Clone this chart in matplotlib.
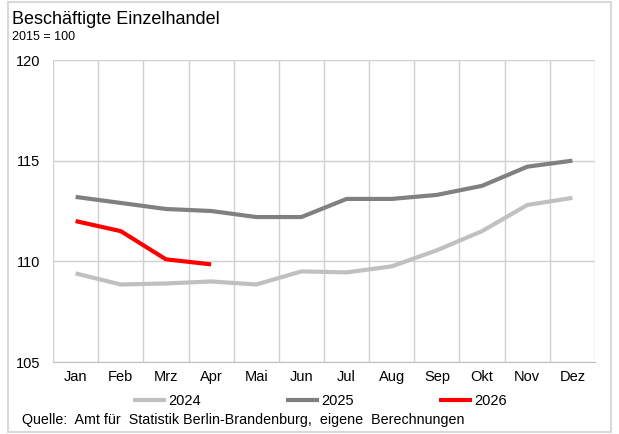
import matplotlib
matplotlib.use("Agg")
import matplotlib.pyplot as plt
from matplotlib.patches import Rectangle

plt.rcParams['font.family'] = ['Liberation Sans', 'DejaVu Sans']

months = ["Jan", "Feb", "Mrz", "Apr", "Mai", "Jun", "Jul", "Aug", "Sep", "Okt", "Nov", "Dez"]
y2024 = [109.4, 108.85, 108.9, 109.0, 108.85, 109.5, 109.45, 109.75, 110.55, 111.5, 112.8, 113.15]
y2025 = [113.2, 112.9, 112.6, 112.5, 112.2, 112.2, 113.1, 113.1, 113.3, 113.75, 114.7, 115.0]
y2026 = [112.0, 111.5, 110.1, 109.85]
yticks = [105, 110, 115, 120]

fig = plt.figure(figsize=(6.19, 4.34), dpi=100)
ax = fig.add_axes([53/619, 72/434, 542/619, 302/434])

x = list(range(len(months)))
ax.plot(x, y2024, color="#C0C0C0", lw=3, label="2024", solid_capstyle="butt")
ax.plot(x, y2025, color="#808080", lw=3, label="2025", solid_capstyle="butt")
ax.plot(range(len(y2026)), y2026, color="#FF0000", lw=3, label="2026", solid_capstyle="butt")

ax.set_xlim(-0.5, 11.5)
ax.set_ylim(105, 120)
ax.set_yticks(yticks)
ax.set_yticklabels([str(t) for t in yticks], fontsize=10.5)
ax.set_xticks(x)
ax.set_xticklabels(months, fontsize=10.5)
ax.tick_params(axis='both', length=0, which='both')
ax.tick_params(axis='x', pad=6)
ax.tick_params(axis='y', pad=9)
ax.grid(False)
for xv in [i - 0.5 for i in range(13)]:
    ax.axvline(xv, color="#D0D0D0", lw=1, zorder=0)
for yv in yticks:
    ax.axhline(yv, color="#D0D0D0", lw=1, zorder=0)
for s in ax.spines.values():
    s.set_visible(False)
ax.spines['bottom'].set_visible(True)
ax.spines['bottom'].set_color("#BFBFBF")

fig.text(12/619, 1 - 19/434, "Beschäftigte Einzelhandel", fontsize=13, va="center", ha="left")
fig.text(12/619, 1 - 37/434, "2015 = 100", fontsize=9, va="center", ha="left")
fig.text(22/619, 1 - 420/434, "Quelle:  Amt für  Statistik Berlin-Brandenburg,  eigene  Berechnungen",
         fontsize=10.3, va="center", ha="left")

leg = fig.legend(loc="center", bbox_to_anchor=(320/619, 1 - 401/434), ncol=3, frameon=False,
                 fontsize=10.5, handlelength=2.3, handletextpad=0.15, columnspacing=5.8)

fig.add_artist(Rectangle((8/619, 2/434), 603/619, 430/434, transform=fig.transFigure,
                         fill=False, edgecolor="#D9D9D9", lw=1.5))

fig.savefig("out.png", dpi=100)
